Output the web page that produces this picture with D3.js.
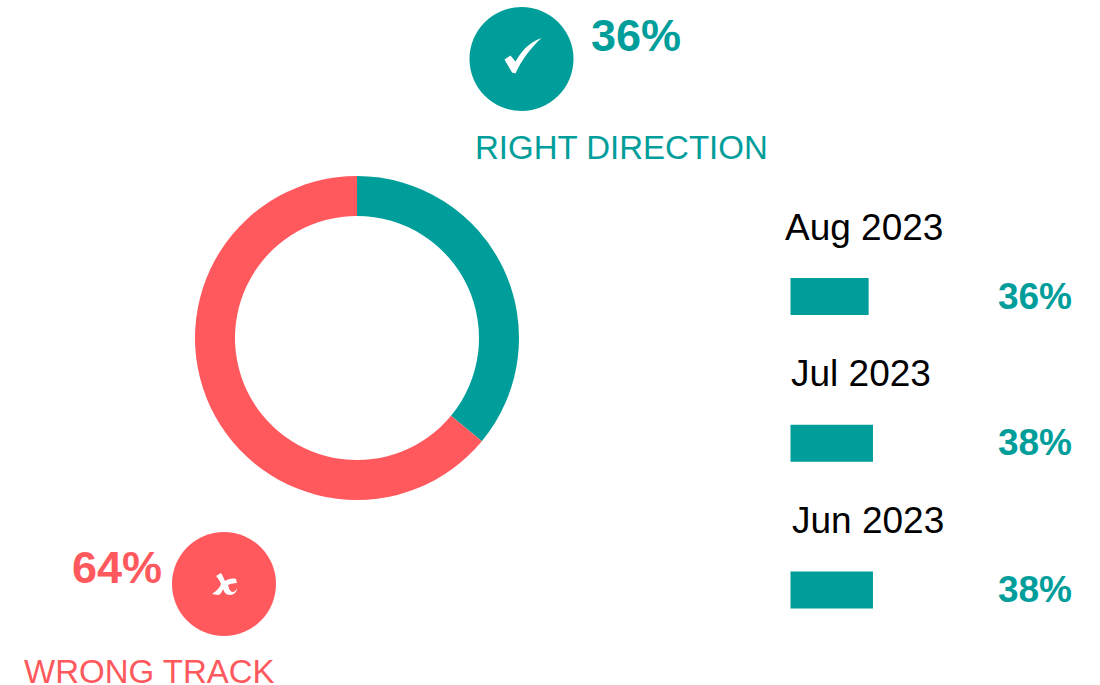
<!DOCTYPE html>
<html>
<head>
<meta charset="utf-8">
<script src="https://cdn.jsdelivr.net/npm/d3@7"></script>
<style>
  html, body { margin: 0; padding: 0; background: #fff; }
  text { font-family: "Liberation Sans", Arial, sans-serif; }
</style>
</head>
<body>
<div id="canvas"></div>
<script>
var teal = "#009e9b";
var red = "#ff595e";

var sliceNames = ["RIGHT DIRECTION", "WRONG TRACK"];
var sliceValues = [36, 64];
var sliceColors = [teal, red];

var months = ["Aug 2023", "Jul 2023", "Jun 2023"];
var monthValues = [36, 38, 38];

var svg = d3.select("#canvas")
  .append("svg")
  .attr("width", 1100)
  .attr("height", 685)
  .style("display", "block");

// donut
var pie = d3.pie().sort(null);
var arc = d3.arc().innerRadius(122).outerRadius(162);

svg.append("g")
  .attr("transform", "translate(357,338)")
  .selectAll("path")
    .data(pie(sliceValues))
    .enter()
      .append("path")
      .attr("d", arc)
      .attr("fill", function(d, i) { return sliceColors[i]; });

// badges
var badgeData = [
  { i: 0, cx: 521.5, cy: 59, numX: 591, numY: 51, anchor: "start", labelX: 475, labelY: 159,
    icon: "M-17,0.5 L-11,-3.5 L-6,2.5 C0,-8 8,-17 20,-21 C10,-12 0,1 -6,14.5 L-9.5,13.5 Z" },
  { i: 1, cx: 224, cy: 584, numX: 162, numY: 583, anchor: "end", labelX: 24, labelY: 683,
    icon: "M-12,10 C-7,7 -4,3 -3,0 C-4,-3 -6,-6 -8,-8 L-3,-11 C-1,-8 0,-5 1,-3 C4,-5 8,-6 12,-5 L13,-1 C9,-1 6,0 4,1 C5,4 5,6 8,8 C11,8 12,6 13,4 C13,8 10,11 6,11 C2,11 0,8 -1,5 C-2,8 -4,11 -6,11 Z" }
];

var badges = svg.selectAll("g.badge")
  .data(badgeData)
  .enter()
    .append("g")
    .attr("class", "badge");

badges.append("circle")
  .attr("cx", function(d) { return d.cx; })
  .attr("cy", function(d) { return d.cy; })
  .attr("r", 52)
  .attr("fill", function(d) { return sliceColors[d.i]; });

badges.append("path")
  .attr("transform", function(d) { return "translate(" + d.cx + "," + d.cy + ")"; })
  .attr("d", function(d) { return d.icon; })
  .attr("fill", "#fff");

badges.append("text")
  .attr("x", function(d) { return d.numX; })
  .attr("y", function(d) { return d.numY; })
  .attr("text-anchor", function(d) { return d.anchor; })
  .attr("font-size", 45)
  .attr("font-weight", "bold")
  .attr("fill", function(d) { return sliceColors[d.i]; })
  .text(function(d) { return sliceValues[d.i] + "%"; });

badges.append("text")
  .attr("x", function(d) { return d.labelX; })
  .attr("y", function(d) { return d.labelY; })
  .attr("font-size", 33)
  .attr("fill", function(d) { return sliceColors[d.i]; })
  .text(function(d) { return sliceNames[d.i]; });

// monthly bars
var x = d3.scaleLinear().domain([0, 100]).range([0, 217]);
var y = d3.scalePoint().domain(months).range([296.5, 590]);
var titleX = [785, 791, 792];

var rows = svg.selectAll("g.row")
  .data(months)
  .enter()
    .append("g")
    .attr("class", "row");

rows.append("rect")
  .attr("x", 790.5)
  .attr("y", function(d) { return y(d) - 18.5; })
  .attr("width", function(d, i) { return x(monthValues[i]); })
  .attr("height", 37)
  .attr("fill", teal);

rows.append("text")
  .attr("x", function(d, i) { return titleX[i]; })
  .attr("y", function(d) { return y(d) - 57; })
  .attr("font-size", 37)
  .attr("fill", "#000")
  .text(function(d) { return d; });

rows.append("text")
  .attr("x", 1072)
  .attr("y", function(d) { return y(d) + 12; })
  .attr("text-anchor", "end")
  .attr("font-size", 37)
  .attr("font-weight", "bold")
  .attr("fill", teal)
  .text(function(d, i) { return monthValues[i] + "%"; });
</script>
</body>
</html>
